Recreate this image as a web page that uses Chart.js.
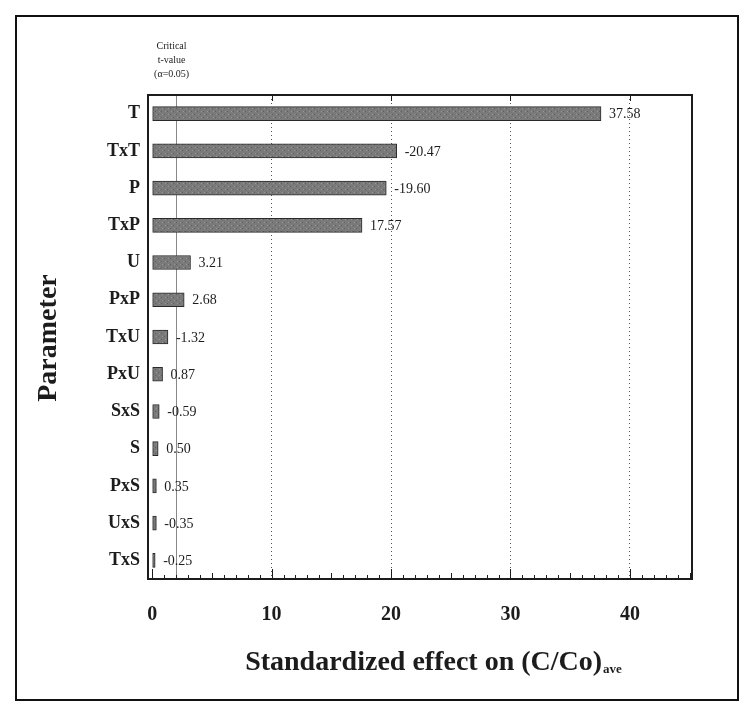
<!DOCTYPE html>
<html>
<head>
<meta charset="utf-8">
<script src="https://cdn.jsdelivr.net/npm/chart.js@4.4.1/dist/chart.umd.min.js"></script>
<style>
  html, body { margin: 0; padding: 0; background: #fff; }
  #wrap { width: 754px; height: 709px; position: relative; }
</style>
</head>
<body>
<div id="wrap"><canvas id="effectChart" width="754" height="709"></canvas></div>
<script>
// data
const parameters = ['T', 'TxT', 'P', 'TxP', 'U', 'PxP', 'TxU', 'PxU', 'SxS', 'S', 'PxS', 'UxS', 'TxS'];
const effects = [37.58, -20.47, -19.60, 17.57, 3.21, 2.68, -1.32, 0.87, -0.59, 0.50, 0.35, -0.35, -0.25];
const xTickValues = [0, 10, 20, 30, 40];
const criticalT = 1.96;

const serif = '"Liberation Serif", "DejaVu Serif", serif';
const ink = '#1c1c1c';

function barPattern() {
    const c = document.createElement('canvas');
    c.width = 6; c.height = 6;
    const g = c.getContext('2d');
    g.fillStyle = '#7a7a7a';
    g.fillRect(0, 0, 6, 6);
    g.fillStyle = '#989898';
    g.fillRect(0, 0, 1, 1);
    g.fillRect(3, 3, 1, 1);
    g.fillStyle = '#5e5e5e';
    g.fillRect(2, 0, 1, 1);
    g.fillRect(5, 3, 1, 1);
    return g.createPattern(c, 'repeat');
}

// frame, critical line, minor ticks, value labels and titles
const decorations = {
    id: 'decorations',
    beforeDatasetsDraw(chart) {
        const { ctx, chartArea: a, scales: { x } } = chart;
        const cx = Math.round(x.getPixelForValue(criticalT)) + 0.5;
        ctx.save();
        ctx.strokeStyle = '#888';
        ctx.lineWidth = 1;
        ctx.beginPath();
        ctx.moveTo(cx, a.top);
        ctx.lineTo(cx, a.bottom);
        ctx.stroke();
        ctx.restore();
    },
    afterDraw(chart) {
        const { ctx, chartArea: a, scales: { x } } = chart;
        ctx.save();
        // plot box
        ctx.strokeStyle = ink;
        ctx.lineWidth = 2;
        ctx.strokeRect(a.left, a.top, a.right - a.left, a.bottom - a.top);

        // minor ticks on the bottom, major ticks top
        ctx.lineWidth = 1;
        ctx.beginPath();
        for (let v = 0; v <= 45; v++) {
            const px = Math.round(x.getPixelForValue(v)) + 0.5;
            if (px >= a.right - 1) break;
            const len = v % 10 === 0 ? 10 : (v % 5 === 0 ? 6 : 4);
            ctx.moveTo(px, a.bottom);
            ctx.lineTo(px, a.bottom - len);
            if (v % 10 === 0 && v > 0) {
                ctx.moveTo(px, a.top);
                ctx.lineTo(px, a.top + 6);
            }
        }
        ctx.stroke();

        // value labels
        const meta = chart.getDatasetMeta(0);
        ctx.fillStyle = ink;
        ctx.font = '14px ' + serif;
        ctx.textAlign = 'left';
        ctx.textBaseline = 'middle';
        meta.data.forEach((bar, i) => {
            ctx.fillText(effects[i].toFixed(2), bar.x + 8, bar.y + 1);
        });

        // critical t-value note
        ctx.font = '10px ' + serif;
        ctx.textAlign = 'center';
        const nx = x.getPixelForValue(criticalT) - 4;
        ctx.fillText('Critical', nx, 46);
        ctx.fillText('t-value', nx, 60);
        ctx.fillText('(\u03b1=0.05)', nx, 74);

        // x axis title with subscript
        const main = 'Standardized effect on (C/Co)';
        ctx.textBaseline = 'alphabetic';
        ctx.font = 'bold 28px ' + serif;
        const wMain = ctx.measureText(main).width;
        ctx.font = 'bold 13px ' + serif;
        const wSub = ctx.measureText('ave').width;
        const startX = 433 - (wMain + wSub) / 2;
        ctx.textAlign = 'left';
        ctx.font = 'bold 28px ' + serif;
        ctx.fillText(main, startX, 670);
        ctx.font = 'bold 13px ' + serif;
        ctx.fillText('ave', startX + wMain + 1, 673);

        // y axis title
        ctx.translate(49, 338);
        ctx.rotate(-Math.PI / 2);
        ctx.textAlign = 'center';
        ctx.textBaseline = 'middle';
        ctx.font = 'bold 28px ' + serif;
        ctx.fillText('Parameter', 0, 0);
        ctx.restore();

        // outer frame
        ctx.save();
        ctx.strokeStyle = '#111';
        ctx.lineWidth = 2;
        ctx.strokeRect(16, 16, 722, 684);
        ctx.restore();
    }
};

const chartInstance = new Chart(document.getElementById('effectChart'), {
    type: 'bar',
    data: {
        labels: parameters,
        datasets: [{
            data: effects.map(v => Math.abs(v)),
            backgroundColor: barPattern(),
            borderColor: '#2a2a2a',
            borderWidth: 1,
            borderSkipped: false,
            barThickness: 14
        }]
    },
    options: {
        indexAxis: 'y',
        responsive: false,
        animation: false,
        layout: { padding: { left: 60, right: 62, top: 95, bottom: 60 } },
        plugins: { legend: { display: false }, tooltip: { enabled: false } },
        scales: {
            x: {
                type: 'linear',
                min: -0.35,
                max: 45.2,
                afterBuildTicks(scale) {
                    scale.ticks = xTickValues.map(v => ({ value: v }));
                },
                afterFit(scale) { scale.height = 70; },
                border: { display: false },
                grid: {
                    drawTicks: false,
                    color: ctx => ctx.tick && ctx.tick.value === 0 ? 'rgba(0,0,0,0)' : '#555'
                },
                ticks: {
                    padding: 24,
                    color: ink,
                    font: { family: serif, size: 20, weight: 'bold' }
                }
            },
            y: {
                afterFit(scale) { scale.width = 88; },
                border: { display: false },
                grid: { display: false, drawTicks: false },
                ticks: {
                    padding: 8,
                    color: ink,
                    font: { family: serif, size: 18, weight: 'bold' }
                }
            }
        }
    },
    plugins: [decorations]
});
chartInstance.options.scales.x.border.dash = [1, 3];
chartInstance.options.scales.x.grid.borderDash = [1, 3];
chartInstance.update();
</script>
</body>
</html>
